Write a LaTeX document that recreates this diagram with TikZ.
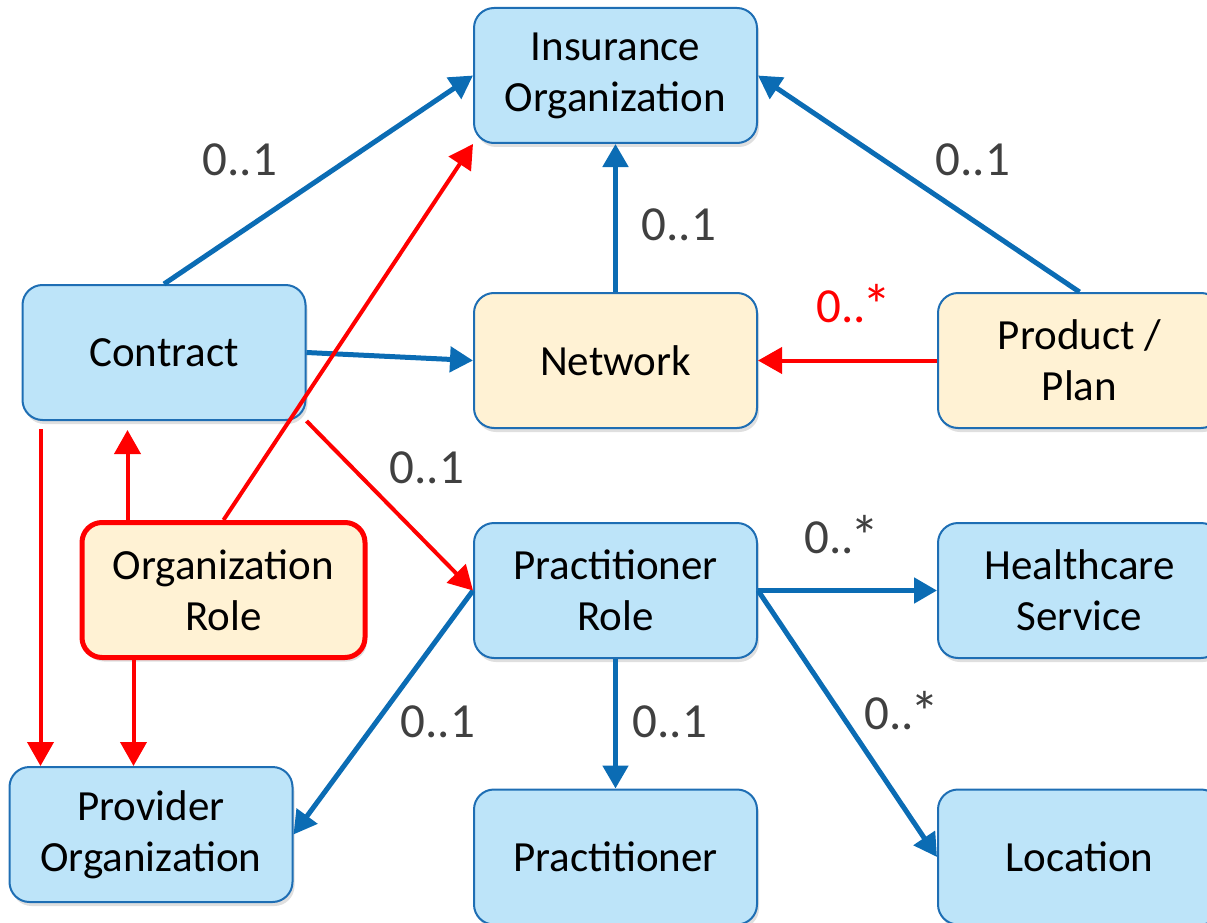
\documentclass[tikz,border=0pt]{standalone}
\usepackage{fontspec}
\setmainfont{Carlito}
\usetikzlibrary{arrows.meta,shadows}

\definecolor{boxblue}{RGB}{189,228,249}
\definecolor{edgeblue}{RGB}{30,110,180}
\definecolor{lineblue}{RGB}{11,108,180}
\definecolor{boxcream}{RGB}{255,242,212}
\definecolor{multgray}{RGB}{64,64,64}

% bigger asterisk for "many"
\newcommand{\manystar}{\kern-3pt\raisebox{-3pt}{\fontsize{58}{58}\selectfont *}}

\begin{document}
\begin{tikzpicture}[x=1pt, y=-1pt,
  box/.style={draw=edgeblue, line width=2pt, rounded corners=20pt,
    minimum width=283pt, minimum height=135pt, inner sep=0pt, align=center,
    font=\fontsize{43}{51}\selectfont,
    drop shadow={opacity=0.25, shadow xshift=2pt, shadow yshift=-4pt}},
  entity/.style={box, fill=boxblue},
  extra/.style={box, fill=boxcream},
  bluelink/.style={draw=lineblue, line width=5pt, -{Triangle[length=23pt,width=25pt]}},
  redlink/.style={draw=red, line width=4pt, -{Triangle[length=24pt,width=26pt]}},
  mult/.style={font=\fontsize{49}{56}\selectfont, text=multgray}]
  \useasboundingbox (0,0) rectangle (1207,923);

  % boxes
  \node[entity] (insorg) at (615.5,75.5) {Insurance\\Organization};
  \node[entity] (contract) at (164,352.5) {Contract};
  \node[extra] (network) at (615.5,360.5) {Network};
  \node[extra] (product) at (1079.5,360.5) {Product /\\Plan};
  \node[extra, draw=red, line width=5pt] (orgrole) at (223.5,590) {Organization\\Role};
  \node[entity] (practrole) at (615.5,590.5) {Practitioner\\Role};
  \node[entity] (health) at (1079.5,590.5) {Healthcare\\Service};
  \node[entity] (provider) at (151,834.5) {Provider\\Organization};
  \node[entity] (practitioner) at (615.5,857) {Practitioner};
  \node[entity] (location) at (1079.5,857) {Location};

  % blue references
  \draw[bluelink] (contract.north) -- (insorg.west);
  \draw[bluelink] (network.north) -- (insorg.south);
  \draw[bluelink] (product.north) -- (insorg.east);
  \draw[bluelink] (contract.east) -- (network.west);
  \draw[bluelink] (practrole.west) -- (provider.east);
  \draw[bluelink] (practrole.south) -- (practitioner.north);
  \draw[bluelink] (practrole.east) -- (health.west);
  \draw[bluelink] (practrole.east) -- (location.west);

  % red references
  \draw[redlink] (product.west) -- (network.east);
  \draw[redlink] (orgrole.north) -- (insorg.south west);
  \draw[redlink] (contract.south east) -- (practrole.west);
  \draw[redlink] ([xshift=19pt,yshift=-8pt]contract.south west)
    -- ([xshift=19pt]contract.south west |- provider.north);
  \draw[redlink, shorten >=9pt] ([xshift=-96pt]orgrole.north)
    -- ([xshift=-96pt]orgrole.north |- contract.south);
  \draw[redlink] ([xshift=-90pt]orgrole.south)
    -- ([xshift=-90pt]orgrole.south |- provider.north);

  % multiplicities
  \node[mult] (m1) at (240,160) {0..1};
  \node[mult] (m2) at (679,225) {0..1};
  \node[mult] (m3) at (973,160) {0..1};
  \node[mult, text=red] (m4) at (854,305) {0..\manystar};
  \node[mult] (m5) at (427,468) {0..1};
  \node[mult] (m6) at (438,722) {0..1};
  \node[mult] (m7) at (670,722) {0..1};
  \node[mult] (m8) at (842,536) {0..\manystar};
  \node[mult] (m9) at (902,712) {0..\manystar};
\end{tikzpicture}
\end{document}
